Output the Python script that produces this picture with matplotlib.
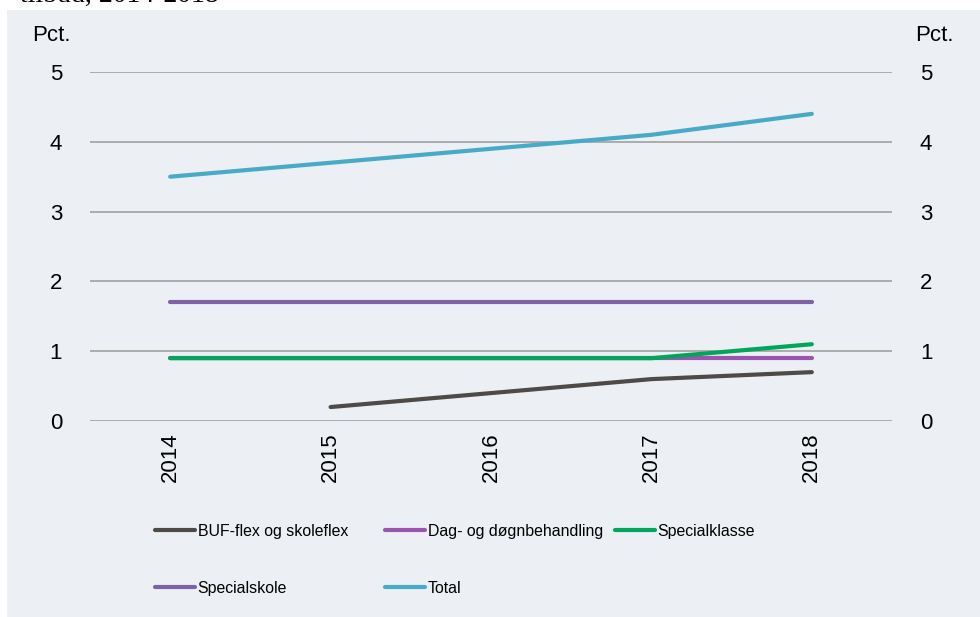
import numpy as np
import matplotlib.pyplot as plt
from matplotlib.patches import Rectangle

plt.rcParams['font.family'] = ['Liberation Sans', 'DejaVu Sans']

years = [2014, 2015, 2016, 2017, 2018]
buf_flex = [np.nan, 0.2, 0.4, 0.6, 0.7]
dag_doegn = [0.9, 0.9, 0.9, 0.9, 0.9]
specialklasse = [0.9, 0.9, 0.9, 0.9, 1.1]
specialskole = [1.7, 1.7, 1.7, 1.7, 1.7]
total = [3.5, 3.7, 3.9, 4.1, 4.4]

series = [
    ("BUF-flex og skoleflex", buf_flex, "#4d4a48"),
    ("Dag- og døgnbehandling", dag_doegn, "#9b55b0"),
    ("Specialklasse", specialklasse, "#00a65a"),
    ("Specialskole", specialskole, "#7d62a4"),
    ("Total", total, "#47aac6"),
]
yticks = [0, 1, 2, 3, 4, 5]
bg = "#eceff3"
W, H = 980, 617

fig = plt.figure(figsize=(W / 100, H / 100), dpi=100)
fig.patch.set_facecolor("white")
fig.patches.append(Rectangle((7 / W, 0), 1 - 7 / W, 1 - 10 / H,
                             transform=fig.transFigure, facecolor=bg,
                             edgecolor="none", zorder=-5))
fig.text(20 / W, 1 - 2 / H, "tilbud, 2014-2018", family="Liberation Serif",
         fontsize=20, va="baseline", ha="left", color="black")

ax = fig.add_axes([90 / W, 1 - 421 / H, (892 - 90) / W, (421 - 72) / H])
ax.set_zorder(2)
ax.patch.set_alpha(0)

handles = []
for name, vals, col in series:
    ln, = ax.plot(years, vals, color=col, lw=3, solid_capstyle="round", label=name, zorder=3)
    handles.append(ln)

ax.set_xlim(2013.5, 2018.5)
ax.set_ylim(0, 5)
ax.set_yticks(yticks)
ax.set_xticks(years)
ax.set_xticklabels([str(y) for y in years], rotation=90)
ax.grid(axis="y", color="#9a9a9a", lw=1.1, zorder=1)
for s in ax.spines.values():
    s.set_visible(False)
ax.tick_params(axis="both", length=0, labelsize=16, colors="black")
ax.tick_params(axis="y", pad=20, labelright=True)
ax.tick_params(axis="x", pad=8)

fig.text(32 / W, 1 - 41 / H, "Pct.", fontsize=16, va="baseline", ha="left")
fig.text(915 / W, 1 - 41 / H, "Pct.", fontsize=16, va="baseline", ha="left")

# legend laid out as a fixed grid: one small legend per column
cols = [[0, 3], [1, 4], [2]]
xs = [155, 385, 615]
for idx, x0 in zip(cols, xs):
    leg = fig.legend([handles[i] for i in idx], [series[i][0] for i in idx],
                     loc="upper left", bbox_to_anchor=(x0 / W, 1 - 524 / H),
                     frameon=False, fontsize=11.4, handlelength=2.5,
                     handletextpad=0.2, borderpad=0, borderaxespad=0,
                     labelspacing=2.65)

fig.savefig("out.png", dpi=100, facecolor="white")
